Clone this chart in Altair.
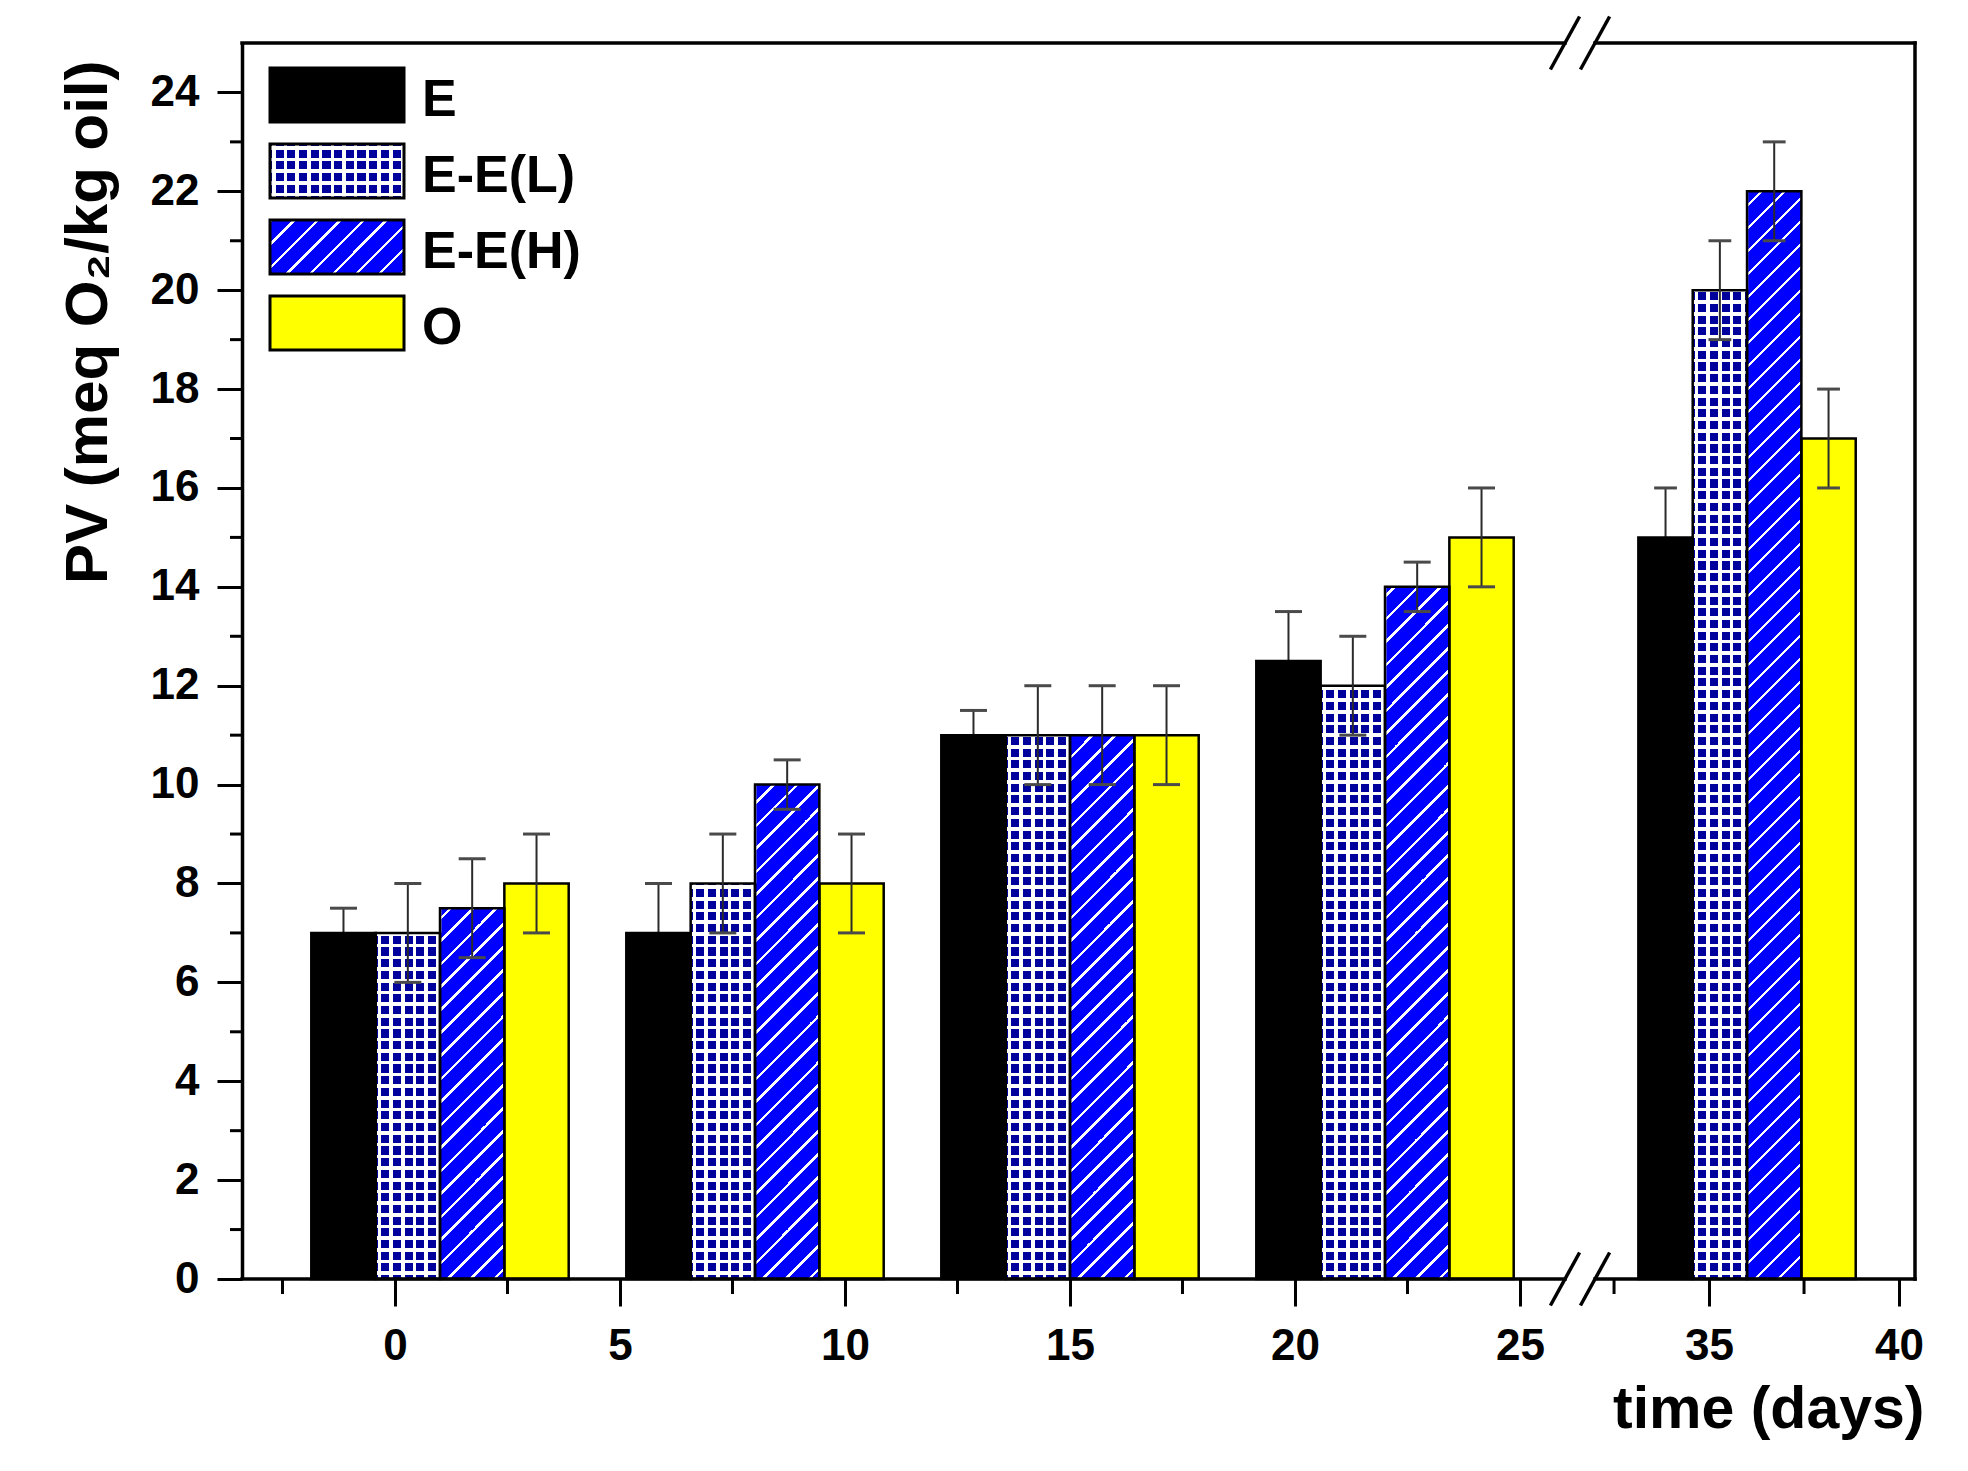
import altair as alt
import pandas as pd

# ---------------- data ----------------
days = [1, 8, 15, 22, 36]
series = ["E", "E-E(L)", "E-E(H)", "O"]
pv_E = [7.0, 7.0, 11.0, 12.5, 15.0]
pv_EL = [7.0, 8.0, 11.0, 12.0, 20.0]
pv_EH = [7.5, 10.0, 11.0, 14.0, 22.0]
pv_O = [8.0, 8.0, 11.0, 15.0, 17.0]
err_E = [0.5, 1.0, 0.5, 1.0, 1.0]
err_EL = [1.0, 1.0, 1.0, 1.0, 1.0]
err_EH = [1.0, 0.5, 1.0, 0.5, 1.0]
err_O = [1.0, 1.0, 1.0, 1.0, 1.0]
x_major = [0, 5, 10, 15, 20, 25, 35, 40]
x_minor = [-2.5, 2.5, 7.5, 12.5, 17.5, 22.5, 32.5, 37.5]
y_major = list(range(0, 25, 2))
y_minor = list(range(1, 24, 2))

values = {"E": pv_E, "E-E(L)": pv_EL, "E-E(H)": pv_EH, "O": pv_O}
errors = {"E": err_E, "E-E(L)": err_EL, "E-E(H)": err_EH, "O": err_O}
rows = []
for si, s in enumerate(series):
    for d, v, e in zip(days, values[s], errors[s]):
        rows.append({"day": d, "series": s, "idx": si, "value": v, "err": e})
df = pd.DataFrame(rows)

# ---------------- layout / style ----------------
FONT = "Liberation Sans"
W, H = 1673, 1236
X_MIN, BRK_L, BRK_R, X_MAX = -3.40, 26.0, 32.0, 40.42
PX1, PX2 = 45.0, 38.0
R1 = (BRK_L - X_MIN) * PX1
R2 = W - (X_MAX - BRK_R) * PX2
BW = 1.43
CAP = 0.3
EPS = 0.03
EL_NAVY = "#00009c"
EH_BLUE = "#0000ff"
CLEAR = "rgba(255,255,255,0)"
GRID_P, GRID_LW = 11.7, 3.6
DIAG_P, DIAG_LW = 23.0, 3.6

xscale = alt.Scale(domain=[X_MIN, BRK_L, BRK_R, X_MAX], range=[0, R1, R2, W],
                   nice=False, zero=False)
yscale = alt.Scale(domain=[0, 25], nice=False, zero=False)

xaxis = alt.Axis(values=x_major, format="d", tickSize=27, tickWidth=3, tickColor="black",
                 domain=False, grid=False, labelFont=FONT, labelFontSize=44,
                 labelFontWeight="bold", labelColor="black", labelPadding=53,
                 labelBaseline="alphabetic", labelFlush=False, labelOverlap=False,
                 labelAngle=0, title="time (days)", titleFont=FONT, titleFontSize=59,
                 titleFontWeight="bold", titleColor="black", titleX=W + 9, titleY=148,
                 titleAlign="right", titleBaseline="alphabetic", zindex=1)
yaxis = alt.Axis(values=y_major, format="d", tickSize=25, tickWidth=3, tickColor="black",
                 domain=True, domainWidth=3.5, domainColor="black", grid=False,
                 labelFont=FONT, labelFontSize=44, labelFontWeight="bold",
                 labelColor="black", labelPadding=18, labelFlush=False,
                 title="PV (meq O₂/kg oil)", titleFont=FONT, titleFontSize=60,
                 titleFontWeight="bold", titleColor="black", titleAngle=270,
                 titleX=-136, titleY=17, titleAlign="right", titleBaseline="alphabetic",
                 zindex=1)


def X(f):
    return alt.X(f"{f}:Q", scale=xscale, axis=xaxis)


def Y(f):
    return alt.Y(f"{f}:Q", scale=yscale, axis=yaxis)


def stripe_stops(length, period, line_w, base, line, phase=0.0):
    stops = []
    s = phase - period
    while s < length:
        a, b = max(s, 0.0), min(s + line_w, length)
        if b > 0 and a < length and b > a:
            stops += [(a, base), (a, line), (b, line), (b, base)]
        s += period
    return [{"offset": round(o / length, 6), "color": c} for o, c in stops]


def grad_h(w, period, lw, base, line, phase=0.0):
    return {"gradient": "linear", "x1": 0, "y1": 0, "x2": 1, "y2": 0,
            "stops": stripe_stops(w, period, lw, base, line, phase)}


def grad_v(h, period, lw, base, line, phase=0.0):
    return {"gradient": "linear", "x1": 0, "y1": 0, "x2": 0, "y2": 1,
            "stops": stripe_stops(h, period, lw, base, line, phase)}


def grad_diag(w, h, period, lw, base, line, phase=0.0):
    r = w / h
    b = (1 + r) / (1 + r * r)
    a = r * b
    return {"gradient": "linear", "x1": 0, "y1": 0, "x2": round(a, 6), "y2": round(b, 6),
            "stops": stripe_stops(w + h, period, lw, base, line, phase)}


w1, w2 = BW * PX1, BW * PX2

bars = alt.Chart(df).transform_calculate(
    x0=f"datum.day + (datum.idx - 2) * {BW}",
    x1=f"datum.day + (datum.idx - 1) * {BW}",
    x0c=f"datum.day + (datum.idx - 2) * {BW} - {EPS}",
    x1c=f"datum.day + (datum.idx - 1) * {BW} + {EPS}",
    xc=f"datum.day + (datum.idx - 1.5) * {BW}",
    c0=f"datum.day + (datum.idx - 1.5) * {BW} - {CAP}",
    c1=f"datum.day + (datum.idx - 1.5) * {BW} + {CAP}",
    lo="datum.value - datum.err",
    hi="datum.value + datum.err",
    seg=f"datum.day > {BRK_L} ? 2 : 1",
)


def full_rect(expr, fill):
    return bars.transform_filter(expr).mark_rect(fill=fill, strokeWidth=0).encode(
        x=X("x0"), x2=alt.X2("x1:Q"), y=alt.value(H), y2=alt.value(0))


EL1 = "datum.series == 'E-E(L)' && datum.seg == 1"
EL2 = "datum.series == 'E-E(L)' && datum.seg == 2"
EH1 = "datum.series == 'E-E(H)' && datum.seg == 1"
EH2 = "datum.series == 'E-E(H)' && datum.seg == 2"

layers = []
# patterned fills (full height, then covered above the value)
layers.append(full_rect(EL1, grad_h(w1, GRID_P, GRID_LW, EL_NAVY, "white", 2.0)))
layers.append(full_rect(EL2, grad_h(w2, GRID_P, GRID_LW, EL_NAVY, "white", 2.0)))
layers.append(full_rect("datum.series == 'E-E(L)'", grad_v(H, GRID_P, GRID_LW, CLEAR, "white", 0.0)))
layers.append(full_rect(EH1, grad_diag(w1, H, DIAG_P, DIAG_LW, EH_BLUE, "white")))
layers.append(full_rect(EH2, grad_diag(w2, H, DIAG_P, DIAG_LW, EH_BLUE, "white")))
layers.append(
    bars.transform_filter("datum.series == 'E-E(L)' || datum.series == 'E-E(H)'")
    .mark_rect(fill="white", strokeWidth=0)
    .encode(x=X("x0c"), x2=alt.X2("x1c:Q"), y=Y("value"), y2=alt.value(-2))
)


def err_layers(expr):
    sub = bars.transform_filter(expr)
    stem = sub.mark_rule(color="#2b2b2b", strokeWidth=2).encode(
        x=X("xc"), y=Y("lo"), y2=alt.Y2("hi:Q"))
    cap_hi = sub.mark_rule(color="#4a4a4a", strokeWidth=3).encode(
        x=X("c0"), x2=alt.X2("c1:Q"), y=Y("hi"))
    cap_lo = sub.mark_rule(color="#4a4a4a", strokeWidth=3).encode(
        x=X("c0"), x2=alt.X2("c1:Q"), y=Y("lo"))
    return [stem, cap_hi, cap_lo]


# E error bars sit behind the black bars
layers += err_layers("datum.series == 'E'")
for s, col in [("E", "black"), ("O", "#ffff00")]:
    layers.append(
        bars.transform_filter(f"datum.series == '{s}'")
        .mark_rect(fill=col, strokeWidth=0)
        .encode(x=X("x0"), x2=alt.X2("x1:Q"), y=Y("value"), y2=alt.value(H))
    )
# outlines
layers.append(
    bars.mark_rect(fillOpacity=0, stroke="black", strokeWidth=2.5)
    .encode(x=X("x0"), x2=alt.X2("x1:Q"), y=Y("value"), y2=alt.value(H))
)
layers += err_layers("datum.series != 'E'")

# minor ticks
layers.append(
    alt.Chart(pd.DataFrame({"v": y_minor})).mark_rule(color="black", strokeWidth=3)
    .encode(y=Y("v"), x=alt.value(-12), x2=alt.value(0))
)
layers.append(
    alt.Chart(pd.DataFrame({"v": x_minor})).mark_rule(color="black", strokeWidth=3)
    .encode(x=X("v"), y=alt.value(H), y2=alt.value(H + 15))
)

# frame with the axis break
segs = pd.DataFrame({
    "a": [X_MIN, BRK_R, X_MIN, BRK_R],
    "b": [BRK_L, X_MAX, BRK_L, X_MAX],
    "y": [0, 0, 25, 25],
})
layers.append(
    alt.Chart(segs).mark_rule(color="black", strokeWidth=3.5, strokeCap="square")
    .encode(x=X("a"), x2=alt.X2("b:Q"), y=Y("y"))
)
layers.append(
    alt.Chart(pd.DataFrame({"a": [X_MAX], "y0": [0], "y1": [25]}))
    .mark_rule(color="black", strokeWidth=3.5, strokeCap="square")
    .encode(x=X("a"), y=Y("y0"), y2=alt.Y2("y1:Q"))
)
slashes = pd.DataFrame({"a": [BRK_L, BRK_R, BRK_L, BRK_R], "y": [0, 0, 25, 25]})
layers.append(
    alt.Chart(slashes).mark_point(shape="M-0.55,1L0.55,-1", size=2809, filled=False,
                                  color="black", strokeWidth=3.5, opacity=1)
    .encode(x=X("a"), y=Y("y"))
)

# legend (drawn inside the plot, top-left)
LEG_X0, LEG_W, LEG_Y0, LEG_H, LEG_STEP = 28, 134, 25, 54, 76
LEG_TX, LEG_TY = 180, 48
leg = pd.DataFrame({"series": series, "row": list(range(len(series)))})
legbase = alt.Chart(leg).transform_calculate(
    lx0=f"{LEG_X0}", lx1=f"{LEG_X0 + LEG_W}",
    ly0=f"{LEG_Y0} + datum.row * {LEG_STEP}",
    ly1=f"{LEG_Y0 + LEG_H} + datum.row * {LEG_STEP}",
    tx=f"{LEG_TX}", ty=f"{LEG_Y0 + LEG_TY} + datum.row * {LEG_STEP}",
)


def LP(f, ch):
    if ch == "x":
        return alt.X(f"{f}:Q", scale=None, axis=None)
    return alt.Y(f"{f}:Q", scale=None, axis=None)


def leg_rect(s, fill):
    return legbase.transform_filter(f"datum.series == '{s}'").mark_rect(
        fill=fill, strokeWidth=0).encode(
        x=LP("lx0", "x"), x2=alt.X2("lx1:Q"), y=LP("ly0", "y"), y2=alt.Y2("ly1:Q"))


layers.append(leg_rect("E", "black"))
layers.append(leg_rect("E-E(L)", grad_h(LEG_W, GRID_P, GRID_LW, EL_NAVY, "white", 2.0)))
layers.append(leg_rect("E-E(L)", grad_v(LEG_H, GRID_P, GRID_LW, CLEAR, "white", 2.0)))
layers.append(leg_rect("E-E(H)", grad_diag(LEG_W, LEG_H, DIAG_P, DIAG_LW, EH_BLUE, "white")))
layers.append(leg_rect("O", "#ffff00"))
layers.append(
    legbase.mark_rect(fillOpacity=0, stroke="black", strokeWidth=3).encode(
        x=LP("lx0", "x"), x2=alt.X2("lx1:Q"), y=LP("ly0", "y"), y2=alt.Y2("ly1:Q"))
)
layers.append(
    legbase.mark_text(font=FONT, fontSize=52, fontWeight="bold", align="left",
                      baseline="alphabetic", color="black")
    .encode(x=LP("tx", "x"), y=LP("ty", "y"), text="series:N")
)

chart = alt.layer(*layers).properties(
    width=W, height=H,
    autosize=alt.AutoSizeParams(type="none"),
    padding={"left": 234, "top": 35, "right": 40, "bottom": 175},
    background="white",
).configure_view(stroke=None)

chart.save("out.html", embed_options={"renderer": "svg", "actions": False})
